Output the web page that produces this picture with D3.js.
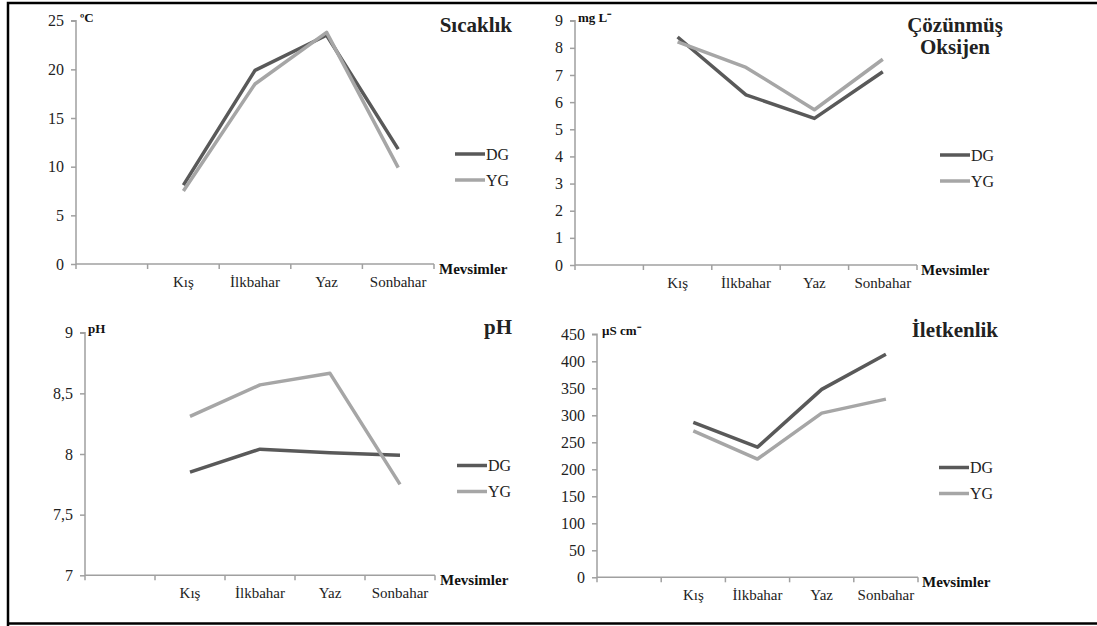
<!DOCTYPE html>
<html><head><meta charset="utf-8">
<script src="https://cdn.jsdelivr.net/npm/d3@7"></script>
<style>body{margin:0;background:#fff;} svg, svg text{font-family:"Liberation Serif","Times New Roman",serif !important;}</style>
</head><body>
<svg id="c" width="1097" height="626"></svg>
<script>
const categories = ["", "Kış", "İlkbahar", "Yaz", "Sonbahar"];
const seriesNames = ["DG", "YG"];
// values for Kış, İlkbahar, Yaz, Sonbahar
const sicaklikDG = [8.1, 19.9, 23.5, 11.8];
const sicaklikYG = [7.5, 18.5, 23.8, 9.9];
const oksijenDG = [8.4, 6.27, 5.4, 7.12];
const oksijenYG = [8.22, 7.28, 5.72, 7.58];
const phDG = [7.85, 8.04, 8.01, 7.99];
const phYG = [8.31, 8.57, 8.665, 7.75];
const iletkenlikDG = [287, 241, 348, 413];
const iletkenlikYG = [271, 219, 304, 330];
const sicaklikTicks = [0, 5, 10, 15, 20, 25];
const oksijenTicks = [0, 1, 2, 3, 4, 5, 6, 7, 8, 9];
const phTicks = [7, 7.5, 8, 8.5, 9];
const phTickLabels = ["7", "7,5", "8", "8,5", "9"];
const iletkenlikTicks = [0, 50, 100, 150, 200, 250, 300, 350, 400, 450];
const xTitle = "Mevsimler";

const colors = {DG: "#595959", YG: "#a6a6a6"};
const FONT = "'Liberation Serif', 'Times New Roman', serif";
const svg = d3.select("#c");

// outer frame
svg.append("path").attr("d", "M8,626 L8,3 L1097,3").attr("fill", "none").attr("stroke", "#000").attr("stroke-width", 2.5);
svg.append("line").attr("x1", 8).attr("x2", 1097).attr("y1", 623.5).attr("y2", 623.5).attr("stroke", "#000").attr("stroke-width", 2.5);

const panels = [
  {x0: 76, x1: 434, yTop: 20.7, yBot: 264, domain: [0, 25], ticks: sicaklikTicks, fmt: d => String(d),
   dg: sicaklikDG, yg: sicaklikYG, unit: "ºC", unitX: 80, unitY: 22,
   title: ["Sıcaklık"], titleX: 512, titleY: 32, titleAnchor: "end",
   legX: 455, legY: 154, mevX: 439},
  {x0: 575, x1: 917, yTop: 20.7, yBot: 265, domain: [0, 9], ticks: oksijenTicks, fmt: d => String(d),
   dg: oksijenDG, yg: oksijenYG, unit: "mg L⁻", unitX: 578, unitY: 22,
   title: ["Çözünmüş", "Oksijen"], titleX: 955, titleY: 32, titleAnchor: "middle",
   legX: 940, legY: 155, mevX: 921},
  {x0: 85, x1: 435, yTop: 332.7, yBot: 575.3, domain: [7, 9], ticks: phTicks, fmt: d => phTickLabels[phTicks.indexOf(d)],
   dg: phDG, yg: phYG, unit: "pH", unitX: 88, unitY: 333,
   title: ["pH"], titleX: 512, titleY: 334, titleAnchor: "end",
   legX: 457, legY: 465.5, mevX: 440},
  {x0: 597, x1: 918, yTop: 334.3, yBot: 577.3, domain: [0, 450], ticks: iletkenlikTicks, fmt: d => String(d),
   dg: iletkenlikDG, yg: iletkenlikYG, unit: "µS cm⁻", unitX: 602, unitY: 335,
   title: ["İletkenlik"], titleX: 998, titleY: 337, titleAnchor: "end",
   legX: 939, legY: 467.5, mevX: 922}
];

panels.forEach(p => {
  const g = svg.append("g").attr("font-family", FONT);
  const x = d3.scaleBand().domain(categories).range([p.x0, p.x1]).padding(0);
  const y = d3.scaleLinear().domain(p.domain).range([p.yBot, p.yTop]);

  // y axis
  const ya = g.append("g").attr("transform", `translate(${p.x0},0)`)
    .call(d3.axisLeft(y).tickValues(p.ticks).tickFormat(p.fmt).tickSize(5).tickPadding(7))
    .attr("font-family", FONT).attr("font-size", 16);
  ya.select(".domain").attr("stroke", "#a0a0a0").attr("stroke-width", 1.5).attr("d", `M-5,${p.yTop}H0V${p.yBot}`);
  ya.selectAll(".tick line").attr("stroke", "#a0a0a0").attr("stroke-width", 1.5);
  ya.selectAll(".tick text").attr("fill", "#222");

  // x axis
  const xa = g.append("g").attr("transform", `translate(0,${p.yBot})`)
    .call(d3.axisBottom(x).tickSize(0).tickPadding(12))
    .attr("font-family", FONT).attr("font-size", 15);
  xa.select(".domain").attr("stroke", "#a0a0a0").attr("stroke-width", 1.5).attr("d", `M${p.x0},0H${p.x1}`);
  xa.selectAll(".tick text").attr("fill", "#222");
  const bounds = categories.map(c => x(c)).concat([x(categories[categories.length - 1]) + x.bandwidth()]);
  xa.selectAll(".bt").data(bounds).enter().append("line").attr("class", "bt")
    .attr("x1", d => d).attr("x2", d => d).attr("y1", 0).attr("y2", 5)
    .attr("stroke", "#a0a0a0").attr("stroke-width", 1.5);

  // lines
  const cats = categories.slice(1);
  const line = d3.line().x((d, i) => x(cats[i]) + x.bandwidth() / 2).y(d => y(d));
  [["DG", p.dg], ["YG", p.yg]].forEach(([name, vals]) => {
    g.append("path").datum(vals).attr("d", line).attr("fill", "none")
      .attr("stroke", colors[name]).attr("stroke-width", 3.5).attr("stroke-linejoin", "round");
  });

  // legend
  seriesNames.forEach((name, i) => {
    const ly = p.legY + i * 26;
    g.append("line").attr("x1", p.legX).attr("x2", p.legX + 30).attr("y1", ly).attr("y2", ly)
      .attr("stroke", colors[name]).attr("stroke-width", 3.5);
    g.append("text").attr("x", p.legX + 31).attr("y", ly).attr("dy", "0.35em")
      .attr("font-size", 16).attr("fill", "#222").text(name);
  });

  // unit
  g.append("text").attr("x", p.unitX).attr("y", p.unitY).attr("font-size", 13).attr("font-weight", "bold")
    .attr("fill", "#111").text(p.unit);
  // title
  p.title.forEach((t, i) => {
    g.append("text").attr("x", p.titleX).attr("y", p.titleY + i * 22).attr("text-anchor", p.titleAnchor)
      .attr("font-size", 21).attr("font-weight", "bold").attr("fill", "#222").text(t);
  });
  // x title
  g.append("text").attr("x", p.mevX).attr("y", p.yBot + 10).attr("font-size", 15).attr("font-weight", "bold")
    .attr("fill", "#111").text(xTitle);
});
</script>
</body></html>
